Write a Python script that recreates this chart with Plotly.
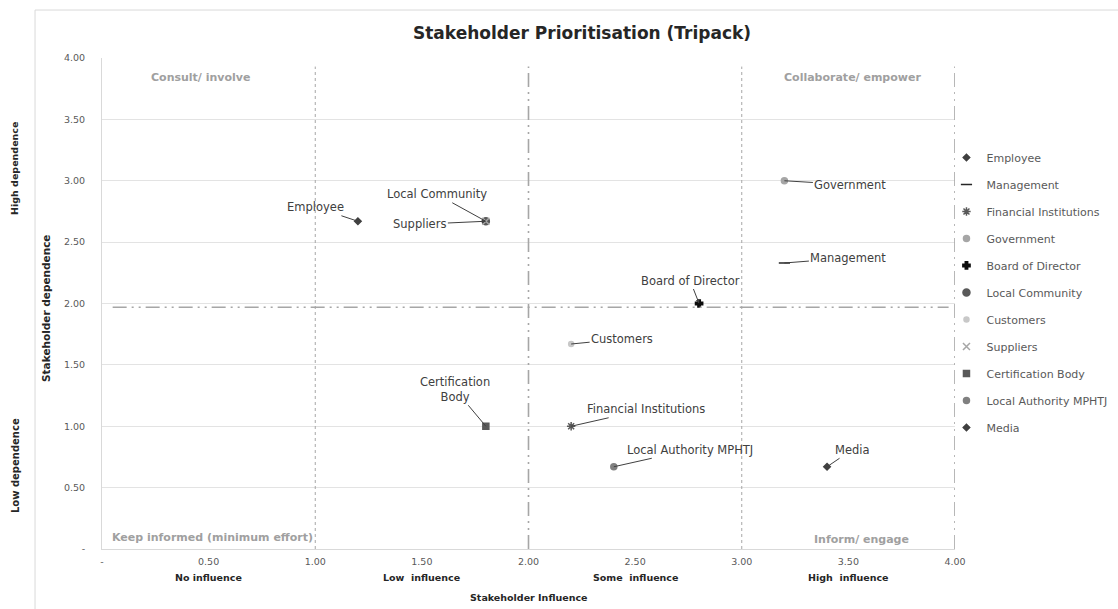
import plotly.graph_objects as go

# Stakeholder scores: influence (x) and dependence (y)
stakeholders = ["Employee", "Management", "Financial Institutions", "Government",
                "Board of Director", "Local Community", "Customers", "Suppliers",
                "Certification Body", "Local Authority MPHTJ", "Media"]
influence = [1.2, 3.2, 2.2, 3.2, 2.8, 1.8, 2.2, 1.8, 1.8, 2.4, 3.4]
dependence = [2.67, 2.33, 1.0, 3.0, 2.0, 2.67, 1.67, 2.67, 1.0, 0.67, 0.67]

# Marker style per stakeholder
symbols = ["diamond", "line-ew-open", "asterisk-open", "circle", "cross",
           "circle", "circle", "x-thin-open", "square", "circle", "diamond"]
colors = ["#404040", "#262626", "#595959", "#a6a6a6", "#0d0d0d",
          "#595959", "#c8c8c8", "#a6a6a6", "#595959", "#808080", "#404040"]
sizes = [5, 8, 7, 6, 6, 7, 5, 7, 6, 6, 5]

# Label offsets (pixels) and whether the leader ends with an arrow head
label_text = ["Employee", "Management", "Financial Institutions", "Government",
              "Board of Director", "Local Community", "Customers", "Suppliers",
              "Certification<br>Body", "Local Authority MPHTJ", "Media"]
label_dx = [-42, 64, 75, 66, -9, -49, 51, -66, -31, 76, 25]
label_dy = [-14, -5, -17, 4, -23, -27, -5, 3, -37, -17, -17]
label_head = [0, 0, 0, 0, 2, 0, 0, 2, 0, 0, 0]

x_ticks = [0, 0.5, 1, 1.5, 2, 2.5, 3, 3.5, 4]
x_tick_text = ["-", "0.50", "1.00", "1.50", "2.00", "2.50", "3.00", "3.50", "4.00"]
y_ticks = [0, 0.5, 1, 1.5, 2, 2.5, 3, 3.5, 4]
y_tick_text = ["-", "0.50", "1.00", "1.50", "2.00", "2.50", "3.00", "3.50", "4.00"]

influence_levels = ["No influence", "Low  influence", "Some  influence", "High  influence"]
influence_level_x = [0.5, 1.5, 2.5, 3.5]

quadrants = ["Consult/ involve", "Collaborate/ empower",
             "Keep informed (minimum effort)", "Inform/ engage"]
quadrant_x = [0.46, 3.52, 0.52, 3.56]
quadrant_y = [3.84, 3.84, 0.09, 0.08]

split_y = 1.97

FONT = "DejaVu Sans"
DARK = "#262626"

fig = go.Figure()

for i, name in enumerate(stakeholders):
    fig.add_trace(go.Scatter(
        x=[influence[i]], y=[dependence[i]], mode="markers", name=name,
        legendgroup=name,
        marker=dict(symbol=symbols[i], color=colors[i], size=sizes[i],
                    line=dict(color=colors[i], width=1.5)),
    ))

annotations = []
for i in range(len(stakeholders)):
    annotations.append(dict(
        x=influence[i], y=dependence[i], xref="x", yref="y",
        text=label_text[i], showarrow=True, arrowhead=label_head[i],
        arrowsize=0.8, arrowwidth=1, arrowcolor="#404040",
        ax=label_dx[i], ay=label_dy[i], axref="pixel", ayref="pixel",
        font=dict(family=FONT, size=11.5, color="#404040"),
    ))

for t, qx, qy in zip(quadrants, quadrant_x, quadrant_y):
    annotations.append(dict(x=qx, y=qy, xref="x", yref="y", text=f"<b>{t}</b>",
                            showarrow=False,
                            font=dict(family=FONT, size=11, color="#a0a0a0")))

for t, lx in zip(influence_levels, influence_level_x):
    annotations.append(dict(x=lx, y=-0.059, xref="x", yref="paper", yanchor="middle",
                            text=f"<b>{t}</b>", showarrow=False,
                            font=dict(family=FONT, size=9.5, color=DARK)))

annotations += [
    dict(x=0.563, y=1.051, xref="paper", yref="paper", yanchor="middle",
         text="<b>Stakeholder Prioritisation (Tripack)</b>", showarrow=False,
         font=dict(family=FONT, size=17, color=DARK)),
    dict(x=0.5, y=-0.098, xref="paper", yref="paper", yanchor="middle",
         text="<b>Stakeholder Influence</b>", showarrow=False,
         font=dict(family=FONT, size=9.5, color=DARK)),
    dict(x=-0.065, y=0.49, xref="paper", yref="paper", xanchor="center",
         yanchor="middle", text="<b>Stakeholder dependence</b>", showarrow=False,
         textangle=-90, font=dict(family=FONT, size=10.5, color=DARK)),
    dict(x=-0.102, y=0.776, xref="paper", yref="paper", xanchor="center",
         yanchor="middle", text="<b>High dependence</b>", showarrow=False,
         textangle=-90, font=dict(family=FONT, size=9.5, color=DARK)),
    dict(x=-0.102, y=0.171, xref="paper", yref="paper", xanchor="center",
         yanchor="middle", text="<b>Low dependence</b>", showarrow=False,
         textangle=-90, font=dict(family=FONT, size=10, color=DARK)),
]

DASH_DOT_DOT = "14px,5px,2px,5px,2px,5px"
shapes = [
    # chart frame
    dict(type="rect", xref="paper", yref="paper", x0=-0.0785, x1=1.3,
         y0=-0.3, y1=1.0977, line=dict(color="#d9d9d9", width=1)),
    # quadrant dividers
    dict(type="line", xref="x", yref="y", x0=1, x1=1, y0=0, y1=3.93,
         line=dict(color="#a6a6a6", width=1, dash="dot")),
    dict(type="line", xref="x", yref="y", x0=3, x1=3, y0=0, y1=3.93,
         line=dict(color="#a6a6a6", width=1, dash="dot")),
    dict(type="line", xref="x", yref="y", x0=2, x1=2, y0=0, y1=3.93,
         line=dict(color="#a6a6a6", width=1.6, dash=DASH_DOT_DOT)),
    dict(type="line", xref="x", yref="y", x0=4, x1=4, y0=0, y1=3.93,
         line=dict(color="#a6a6a6", width=1.6, dash=DASH_DOT_DOT)),
    dict(type="line", xref="x", yref="y", x0=0.05, x1=3.97, y0=split_y, y1=split_y,
         line=dict(color="#a6a6a6", width=1.6, dash=DASH_DOT_DOT)),
]

fig.update_layout(
    width=1118, height=609,
    margin=dict(l=102, r=163, t=58, b=60, autoexpand=False),
    paper_bgcolor="white", plot_bgcolor="white",
    showlegend=True,
    legend=dict(x=0.99, y=0.827, xanchor="left", yanchor="top",
                font=dict(family=FONT, size=11, color="#595959"),
                tracegroupgap=8, itemwidth=30, bgcolor="rgba(0,0,0,0)"),
    annotations=annotations,
    shapes=shapes,
    xaxis=dict(range=[0, 4], tickvals=x_ticks, ticktext=x_tick_text,
               showgrid=False, zeroline=False, showline=True,
               linecolor="#d9d9d9", linewidth=1, ticks="", ticklabelstandoff=4,
               tickfont=dict(family=FONT, size=9.5, color="#595959")),
    yaxis=dict(range=[0, 4], tickvals=y_ticks, ticktext=y_tick_text,
               showgrid=True, gridcolor="#e3e3e3", gridwidth=1,
               zeroline=False, showline=True, linecolor="#d9d9d9", linewidth=1,
               ticks="", ticklabelstandoff=14,
               tickfont=dict(family=FONT, size=9.5, color="#595959")),
)

fig.write_html("out.html")
